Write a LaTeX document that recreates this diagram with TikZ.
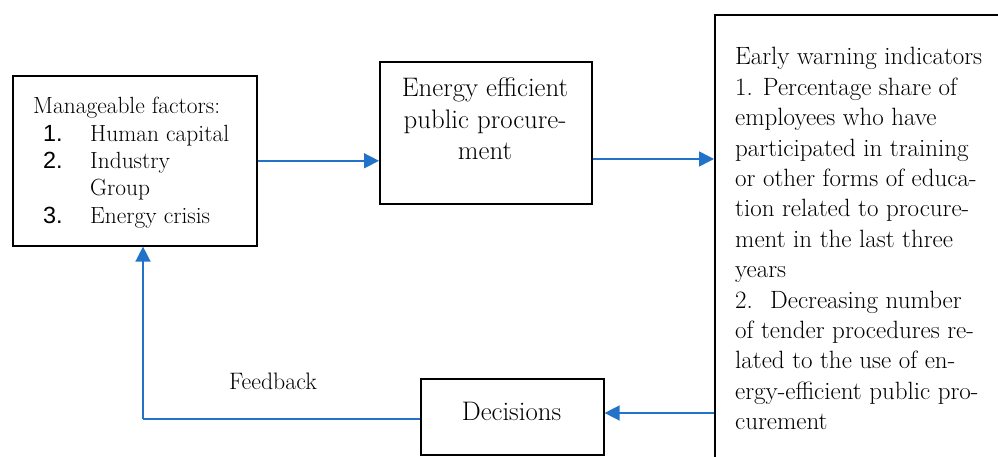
\documentclass[tikz,border=0pt]{standalone}
\usepackage{fontspec}
\newfontfamily\numfont{Liberation Sans}
\usetikzlibrary{arrows.meta}
\definecolor{flowblue}{RGB}{33,114,200}
\newcommand\itemnum[1]{\makebox[47pt][l]{\numfont #1}}
\begin{document}
\begin{tikzpicture}[x=1pt,y=-1pt,
  boxshape/.style={draw=black,line width=1.6pt,inner sep=0pt,anchor=north west},
  txt/.style={inner sep=0pt,font=\fontsize{23.4}{27.3}\selectfont},
  bigtxt/.style={inner sep=0pt,font=\fontsize{26.8}{31.5}\selectfont},
  flow/.style={draw=flowblue,line width=1.5pt,-{Triangle[length=15pt,width=15pt]}},
  feed/.style={draw=flowblue,line width=1.5pt}]
\useasboundingbox (0,0) rectangle (998,457);
\clip (0,0) rectangle (998,457);
% boxes
\node[boxshape,minimum width=244pt,minimum height=170pt] (left) at (12,75) {};
\node[boxshape,minimum width=212pt,minimum height=142pt] (mid) at (379,61) {};
\node[boxshape,minimum width=300pt,minimum height=470pt] (ind) at (714,14) {};
\node[boxshape,minimum width=183pt,minimum height=76pt] (dec) at (420,378) {};
% texts
\node[txt,anchor=base west] (lefttext) at (33,114) {\parbox[t]{215pt}{\raggedright
Manageable factors:\\
\hspace*{10pt}\itemnum{1.}Human capital\\
\hspace*{10pt}\itemnum{2.}Industry\\
\hspace*{57pt}Group\\
\hspace*{10pt}\itemnum{3.}Energy crisis}};
\node[bigtxt,anchor=base] (midtext) at (485,97) {\parbox[t]{205pt}{\centering
Energy efficient\\ public procure-\\ ment}};
\node[txt,anchor=base west] (indtext) at (735,65) {\parbox[t]{262pt}{\raggedright\fontsize{25}{30.4}\selectfont
Early warning indicators\\
1. Percentage share of\\
employees who have\\
participated in training\\
or other forms of educa-\\
tion related to procure-\\
ment in the last three\\
years\\
\makebox[35pt][l]{2.}Decreasing number\\
of tender procedures re-\\
lated to the use of en-\\
ergy-efficient public pro-\\
curement}};
\node[bigtxt,anchor=base] (dectext) at (511.5,420) {Decisions};
\node[txt,anchor=base] (feedtext) at (273,389) {\fontsize{23.8}{27}\selectfont Feedback};
% connectors
\coordinate (a2) at (590,159);
\coordinate (a3) at (714,413);
\coordinate (fb) at (143,419);
\draw[flow] (left.east) -- (mid.west |- left.east);
\draw[flow] (mid.east |- a2) -- (ind.west |- a2);
\draw[flow] (ind.west |- a3) -- (dec.east |- a3);
\draw[feed] (dec.west |- fb) -- (fb);
\draw[flow] (fb) -- (fb |- left.south);
\end{tikzpicture}
\end{document}
